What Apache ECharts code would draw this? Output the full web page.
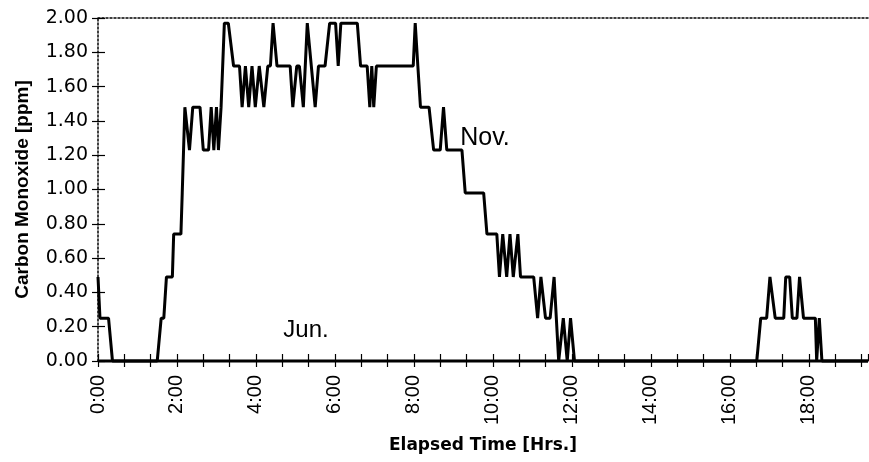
<!DOCTYPE html>
<html>
<head>
<meta charset="utf-8">
<style>
  html, body { margin: 0; padding: 0; background: #fff; }
  #chart { width: 869px; height: 462px; }
</style>
<script src="https://cdn.jsdelivr.net/npm/echarts@6/dist/echarts.min.js"></script>
</head>
<body>
<div id="chart"></div>
<script>
// Carbon monoxide readings, elapsed minutes vs ppm
const novMinutes = [0, 3, 16, 22, 90, 96, 100, 104, 113, 115, 126, 128, 130, 132, 135, 139, 144, 155, 160, 168,
  172, 176, 180, 183, 187, 192, 198, 206, 215, 219, 224, 229, 234, 239, 245, 252, 258, 262, 266, 272,
  292, 296, 302, 306, 312, 318, 330, 335, 345, 352, 361, 365, 369, 394, 399, 409, 413, 416, 419, 423,
  479, 482, 486, 490, 503, 510, 520, 525, 530, 553, 558, 586, 591, 606, 610, 615, 621, 626, 631, 638,
  642, 662, 668, 673, 680, 687, 693, 700, 707, 713, 718, 724, 1001, 1007, 1016, 1021, 1029, 1042, 1045, 1051,
  1055, 1062, 1066, 1072, 1090, 1092, 1096, 1100, 1170];
const novPpm = [0.49, 0.25, 0.25, 0, 0, 0.25, 0.25, 0.49, 0.49, 0.74, 0.74, 0.98, 1.23, 1.48, 1.48, 1.23, 1.48, 1.48, 1.23, 1.23,
  1.48, 1.23, 1.48, 1.23, 1.48, 1.97, 1.97, 1.72, 1.72, 1.48, 1.72, 1.48, 1.72, 1.48, 1.72, 1.48, 1.72, 1.72, 1.97, 1.72,
  1.72, 1.48, 1.72, 1.72, 1.48, 1.97, 1.48, 1.72, 1.72, 1.97, 1.97, 1.72, 1.97, 1.97, 1.72, 1.72, 1.48, 1.72, 1.48, 1.72,
  1.72, 1.97, 1.72, 1.48, 1.48, 1.23, 1.23, 1.48, 1.23, 1.23, 0.98, 0.98, 0.74, 0.74, 0.49, 0.74, 0.49, 0.74, 0.49, 0.74,
  0.49, 0.49, 0.25, 0.49, 0.25, 0.25, 0.49, 0, 0.25, 0, 0.25, 0, 0, 0.25, 0.25, 0.49, 0.25, 0.25, 0.49, 0.49,
  0.25, 0.25, 0.49, 0.25, 0.25, 0, 0.25, 0, 0];
const junMinutes = [0, 1170];
const junPpm = [0, 0];

// Axis settings
const xMaxMinutes = 1170;
const xTickStep = 40;        // minor tick every 40 minutes
const xLabelStep = 120;      // label every 2 hours
const yMax = 2.0;
const yStep = 0.2;

// Series name annotations, placed in data coordinates
const novLabel = { text: 'Nov.', minute: 588, ppm: 1.30 };
const junLabel = { text: 'Jun.', minute: 316, ppm: 0.18 };

const pairs = (xs, ys) => xs.map((x, i) => [x, ys[i]]);

const chart = echarts.init(document.getElementById('chart'), null, { renderer: 'canvas' });

const axisFont = 'Liberation Sans, Arial, sans-serif';

chart.setOption({
  animation: false,
  backgroundColor: '#ffffff',
  grid: { left: 98, right: 1, top: 18, bottom: 101, containLabel: false },
  xAxis: [
    {
      type: 'value', position: 'bottom', min: 0, max: xMaxMinutes, interval: xTickStep,
      name: 'Elapsed Time [Hrs.]', nameLocation: 'middle', nameGap: 76,
      nameTextStyle: { fontFamily: 'DejaVu Sans', fontWeight: 'bold', fontSize: 17, color: '#000' },
      axisLine: { show: true, onZero: false, lineStyle: { color: '#000', width: 1.5 } },
      axisTick: { show: true, length: 6, lineStyle: { color: '#000', width: 1.2 } },
      axisLabel: {
        show: true, rotate: 90, margin: 14, fontFamily: axisFont, fontSize: 20, color: '#000',
        showMinLabel: true, showMaxLabel: false, hideOverlap: false,
        formatter: v => (v % xLabelStep === 0 ? (v / 60) + ':00' : '')
      },
      splitLine: { show: false }
    },
    {
      // inner half of the crossing x ticks
      type: 'value', position: 'bottom', min: 0, max: xMaxMinutes, interval: xTickStep,
      axisLine: { show: false },
      axisTick: { show: true, inside: true, length: 7, lineStyle: { color: '#000', width: 1.2 } },
      axisLabel: { show: false }, splitLine: { show: false }
    },
    {
      // dotted top frame
      type: 'value', position: 'top', min: 0, max: xMaxMinutes,
      axisLine: { show: true, onZero: false, lineStyle: { color: '#000', width: 1.5, type: [2, 2] } },
      axisTick: { show: false }, axisLabel: { show: false }, splitLine: { show: false }
    }
  ],
  yAxis: [
    {
      type: 'value', position: 'left', min: 0, max: yMax, interval: yStep,
      name: 'Carbon Monoxide [ppm]', nameLocation: 'middle', nameGap: 66, nameRotate: 90,
      nameTextStyle: { fontFamily: axisFont, fontWeight: 'bold', fontSize: 19, color: '#000' },
      axisLine: { show: true, onZero: false, lineStyle: { color: '#000', width: 1.5, type: [2, 2] } },
      axisTick: { show: true, length: 6, lineStyle: { color: '#000', width: 1.2 } },
      axisLabel: { margin: 10, fontFamily: 'DejaVu Sans', fontSize: 19, color: '#000', formatter: v => v.toFixed(2) },
      splitLine: { show: false }
    },
    {
      // inner half of the crossing y ticks
      type: 'value', position: 'left', min: 0, max: yMax, interval: yStep,
      axisLine: { show: false },
      axisTick: { show: true, inside: true, length: 7, lineStyle: { color: '#000', width: 1.2 } },
      axisLabel: { show: false }, splitLine: { show: false }
    }
  ],
  series: [
    {
      name: 'Jun.', type: 'line', xAxisIndex: 0, yAxisIndex: 0,
      data: pairs(junMinutes, junPpm), showSymbol: false, clip: false,
      lineStyle: { color: '#000', width: 3 },
      markPoint: {
        symbol: 'circle', symbolSize: 0,
        label: { show: true, position: 'inside', formatter: junLabel.text, fontFamily: axisFont, fontSize: 24, color: '#000' },
        data: [{ coord: [junLabel.minute, junLabel.ppm] }]
      }
    },
    {
      name: 'Nov.', type: 'line', xAxisIndex: 0, yAxisIndex: 0,
      data: pairs(novMinutes, novPpm), showSymbol: false, clip: false,
      lineStyle: { color: '#000', width: 3, join: 'bevel' },
      markPoint: {
        symbol: 'circle', symbolSize: 0,
        label: { show: true, position: 'inside', formatter: novLabel.text, fontFamily: axisFont, fontSize: 25, color: '#000' },
        data: [{ coord: [novLabel.minute, novLabel.ppm] }]
      }
    }
  ]
});
</script>
</body>
</html>
